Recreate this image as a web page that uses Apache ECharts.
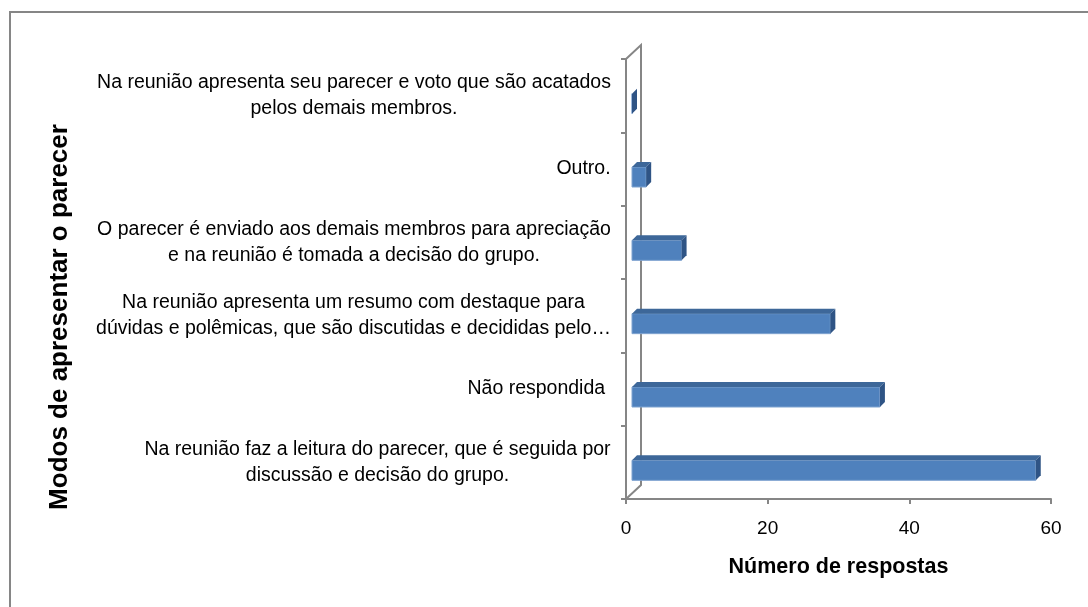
<!DOCTYPE html>
<html>
<head>
<meta charset="utf-8">
<script src="https://cdn.jsdelivr.net/npm/echarts@6/dist/echarts.min.js"></script>
<style>
  html, body { margin: 0; padding: 0; background: #fff; }
  #main { width: 1088px; height: 607px; }
</style>
</head>
<body>
<div id="main"></div>
<script>
// categories from bottom to top, as in the picture
var categories = [
    'Na reunião faz a leitura do parecer, que é seguida por\ndiscussão e decisão do grupo.',
    'Não respondida ',
    'Na reunião apresenta um resumo com destaque para\ndúvidas e polêmicas, que são discutidas e decididas pelo…',
    'O parecer é enviado aos demais membros para apreciação\ne na reunião é tomada a decisão do grupo.',
    'Outro.',
    'Na reunião apresenta seu parecer e voto que são acatados\npelos demais membros.'
];
var respostas = [57, 35, 28, 7, 2, 0];
var xTicks = [0, 20, 40, 60];

var labelSize = 19.5;

// measure the widest line of each label so the lines can be centred inside the block
var ctx = document.createElement('canvas').getContext('2d');
ctx.font = labelSize + 'px "Liberation Sans"';
function blockWidth(txt) {
    var w = 0;
    txt.split('\n').forEach(function (l) { w = Math.max(w, ctx.measureText(l).width); });
    return Math.ceil(w) + 2;
}

var myChart = echarts.init(document.getElementById('main'));

var depth = 5, barH = 20;

myChart.setOption({
    animation: false,
    grid: { left: 626, right: 37, top: 59, bottom: 108 },
    xAxis: {
        type: 'value',
        min: xTicks[0],
        max: xTicks[xTicks.length - 1],
        interval: 20,
        name: 'Número de respostas',
        nameLocation: 'middle',
        nameGap: 57,
        nameTextStyle: { fontFamily: 'Liberation Sans', fontSize: 21.5, fontWeight: 'bold', color: '#000' },
        axisLine: { show: true, lineStyle: { color: '#868686', width: 2 } },
        axisTick: { show: true, length: 5, lineStyle: { color: '#868686', width: 2 } },
        axisLabel: { fontFamily: 'Liberation Sans', fontSize: 19, color: '#000', margin: 20 },
        splitLine: { show: false }
    },
    yAxis: {
        type: 'category',
        data: categories,
        name: 'Modos de apresentar o parecer',
        nameLocation: 'middle',
        nameRotate: 90,
        nameGap: 553,
        nameTextStyle: { fontFamily: 'Liberation Sans', fontSize: 26, fontWeight: 'bold', color: '#000', padding: [0, 76, 0, 0] },
        axisLine: { show: true, lineStyle: { color: '#868686', width: 2 } },
        axisTick: { show: true, length: 5, lineStyle: { color: '#868686', width: 2 } },
        axisLabel: {
            margin: 14,
            color: '#000',
            formatter: function (val) {
                var w = blockWidth(val);
                return val.split('\n').map(function (l) { return '{c' + w + '|' + l + '}'; }).join('\n');
            },
            rich: (function () {
                var r = {};
                categories.forEach(function (c) {
                    r['c' + blockWidth(c)] = {
                        width: blockWidth(c), align: 'center',
                        fontFamily: 'Liberation Sans', fontSize: labelSize, lineHeight: 26, color: '#000'
                    };
                });
                return r;
            })()
        }
    },
    series: [{
        type: 'custom',
        name: 'Número de respostas',
        data: respostas.map(function (v, i) { return [v, i]; }),
        encode: { x: 0, y: 1 },
        renderItem: function (params, api) {
            var v = api.value(0), c = api.value(1);
            var p0 = api.coord([0, c]), p1 = api.coord([v, c]);
            var x0 = p0[0] + 6, x1 = p1[0] + 6;
            var yt = p0[1] + 8 - barH / 2, yb = yt + barH;
            return {
                type: 'group',
                children: [
                    { type: 'rect', shape: { x: x0, y: yt, width: x1 - x0, height: barH },
                      style: { fill: '#4F81BD', stroke: '#7fa3d0', lineWidth: 1 } },
                    { type: 'polygon', shape: { points: [[x0, yt], [x0 + depth, yt - depth], [x1 + depth, yt - depth], [x1, yt]] },
                      style: { fill: '#3D6799' } },
                    { type: 'polygon', shape: { points: [[x1, yt], [x1 + depth, yt - depth], [x1 + depth, yb - depth], [x1, yb]] },
                      style: { fill: '#2F5485' } }
                ]
            };
        }
    }]
});

// back wall of the 3D plot and the outer frame
var n = categories.length;
var c0 = myChart.convertToPixel({ xAxisIndex: 0, yAxisIndex: 0 }, [0, 0]);
var cN = myChart.convertToPixel({ xAxisIndex: 0, yAxisIndex: 0 }, [0, n - 1]);
var band = (c0[1] - cN[1]) / (n - 1);
var xL = c0[0], yTop = cN[1] - band / 2, yBot = c0[1] + band / 2;
var wx = 15, wy = 14;
myChart.setOption({
    graphic: [
        { type: 'rect', shape: { x: 10, y: 12, width: 1100, height: 620 },
          style: { fill: 'none', stroke: '#868686', lineWidth: 2 }, z: 0 },
        { type: 'polyline', shape: { points: [[xL, yTop], [xL + wx, yTop - wy], [xL + wx, yBot - wy], [xL, yBot]] },
          style: { fill: 'none', stroke: '#868686', lineWidth: 2 }, z: 0 }
    ]
});
window.onresize = myChart.resize;
</script>
</body>
</html>
